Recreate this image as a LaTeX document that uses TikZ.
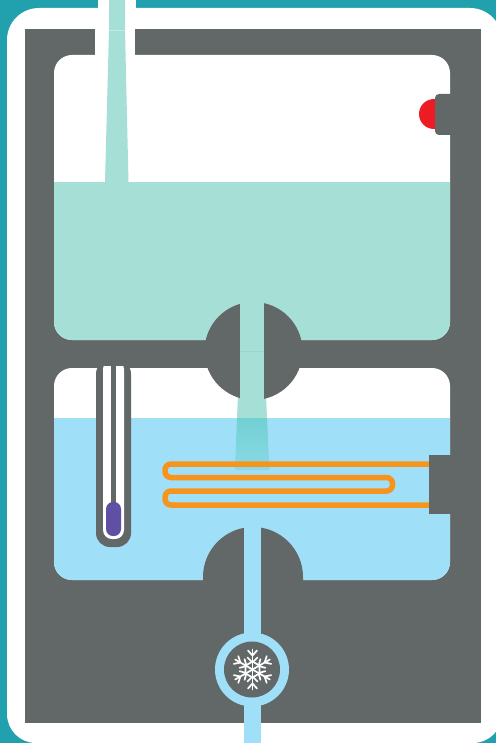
\documentclass[tikz,border=0pt]{standalone}
\definecolor{frameteal}{HTML}{21A0AE}
\definecolor{wallgray}{HTML}{626767}
\definecolor{mint}{HTML}{A6DFD6}
\definecolor{mintseam}{HTML}{97D9D0}
\definecolor{mintpale}{HTML}{C2EAE3}
\definecolor{skyw}{HTML}{A0DFF8}
\definecolor{coilor}{HTML}{F7941D}
\definecolor{bulbv}{HTML}{5F50A3}
\definecolor{alarm}{HTML}{ED1C24}
\definecolor{mixtop}{HTML}{72D0D3}
\definecolor{mixbot}{HTML}{8ADAE6}
\tikzset{
  wall/.style={fill=wallgray,draw=none},
  chamber/.style={fill=white,draw=none},
  flake/.style={draw=white,line width=1.7pt,line cap=round}
}
\begin{document}
\begin{tikzpicture}[x=1pt,y=-1pt]
\useasboundingbox (0,0) rectangle (496,743);
\fill[frameteal] (0,0) rectangle (496,743);
% white card
\fill[white,rounded corners=32] (7,8) rectangle (502,600);
\fill[white,rounded corners=29] (7,400) rectangle (502,743);
\fill[white] (98,0) rectangle (136,9);
% gray body
\fill[wall] (25,29) rectangle (481,723);
% chambers
\begin{scope}
  \fill[chamber,rounded corners=18] (54,55) rectangle (450,340);
  \clip[rounded corners=18] (54,55) rectangle (450,340);
  \fill[mint] (54,182) rectangle (450,340);
\end{scope}
\begin{scope}
  \fill[chamber,rounded corners=18] (54,368) rectangle (450,580);
  \clip[rounded corners=18] (54,368) rectangle (450,580);
  \fill[skyw] (54,418) rectangle (450,580);
\end{scope}
% inlet slot and pipe
\fill[chamber] (95,29) rectangle (135,56);
\fill[mint] (109,0) -- (125,0) -- (125,30) -- (128.5,182) -- (105,182) -- (109,30) -- cycle;
\draw[mintpale,line width=0.6pt] (109,30) -- (125,30);
% transfer pipe: funnel behind the bump
\fill[mint] (240,351) -- (264,351) -- (267,418) -- (237,418) -- cycle;
\shade[top color=mixtop,bottom color=mixbot] (237,418) -- (267,418) -- (269.5,470) -- (235,470) -- cycle;
% bumps
\fill[wall] (253.5,351) circle[radius=49];
\fill[wall] (203,582) -- (203,577) arc[start angle=180,end angle=360,radius=50] -- (303,582) -- cycle;
% straight part of the transfer pipe
\fill[mint] (240,298) rectangle (264,400);
\draw[mintseam,line width=0.7pt] (240,351) -- (264,351);
% thermometer
\fill[wall,rounded corners=14] (96,360) rectangle (131,547);
\fill[white,rounded corners=9] (103,360) rectangle (124,539);
\fill[wall] (111,366) rectangle (116,510);
\fill[bulbv,rounded corners=7] (106,502) rectangle (121,536);
\fill[wall] (90,341) rectangle (140,366);
% heater coil
\draw[coilor,line width=5.5pt,rounded corners=6] (429,464) -- (165,464) -- (165,477.5) -- (392.5,477.5) -- (392.5,491) -- (165,491) -- (165,505) -- (429,505);
% block and alarm
\fill[wall] (429,455) rectangle (451,514);
\fill[alarm] (434,114) circle[radius=15];
\fill[wall,rounded corners=4] (435,94) rectangle (460,135);
% outlet and ring
\fill[skyw] (244.3,527) rectangle (260.7,743);
\fill[skyw] (252,669.5) circle[radius=37];
\fill[wall] (252,669.5) circle[radius=28];
% snowflake
\begin{scope}[shift={(252.5,669.5)}]
  \foreach \a in {30,90,...,330}{
    \begin{scope}[rotate=\a]
      \draw[flake] (0,0) -- (20,0);
      \draw[flake] (7,0) -- (12,-5) (7,0) -- (12,5);
      \draw[flake] (14,0) -- (19,-4.5) (14,0) -- (19,4.5);
    \end{scope}
  }
  \draw[flake] (30:8) -- (90:8) -- (150:8) -- (210:8) -- (270:8) -- (330:8) -- cycle;
\end{scope}
\end{tikzpicture}
\end{document}
